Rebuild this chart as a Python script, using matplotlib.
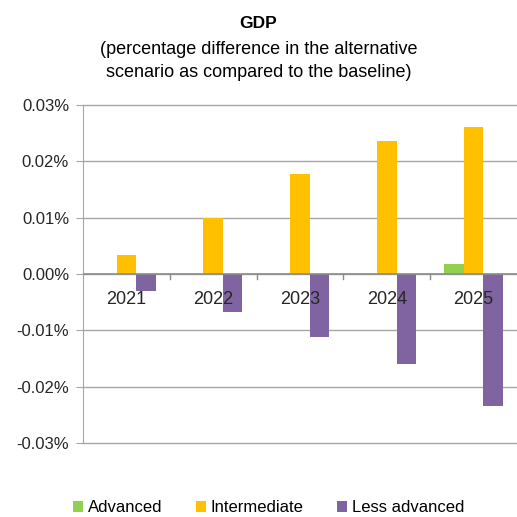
import matplotlib.pyplot as plt
import numpy as np
from matplotlib.ticker import FuncFormatter

plt.rcParams['font.family'] = ['Liberation Sans', 'DejaVu Sans']

years = ['2021', '2022', '2023', '2024', '2025']
advanced = [0.00005, 0.00005, 0.00005, 0.00005, 0.0018]
intermediate = [0.0034, 0.0100, 0.0178, 0.0236, 0.0261]
less_advanced = [-0.0030, -0.0067, -0.0111, -0.0160, -0.0235]

colors = ['#92D050', '#FFC000', '#8064A2']

fig = plt.figure(figsize=(5.17, 5.17), dpi=100)
ax = fig.add_axes([83 / 517, 1 - 443 / 517, 434 / 517, 338 / 517])

x = np.arange(len(years))
w = 0.224
ax.bar(x - w, advanced, w, color=colors[0], label='Advanced')
ax.bar(x, intermediate, w, color=colors[1], label='Intermediate')
ax.bar(x + w, less_advanced, w, color=colors[2], label='Less advanced')

ax.set_xlim(-0.5, len(years) - 0.5)
ax.set_ylim(-0.03, 0.03)
ax.set_yticks(np.arange(-0.03, 0.031, 0.01))
ax.yaxis.set_major_formatter(FuncFormatter(lambda v, p: f'{v:.2f}%'))
for t in np.arange(-0.03, 0.031, 0.01):
    ax.axhline(t, color='#A6A6A6', linewidth=1, zorder=0, clip_on=False)
for s in ['top', 'right', 'bottom']:
    ax.spines[s].set_visible(False)
ax.spines['left'].set_color('#A6A6A6')
ax.tick_params(axis='y', length=5, color='#A6A6A6', labelsize=12, pad=5, labelcolor='#262626')
ax.set_xticks([])
ax.axhline(0, color='#8C8C8C', linewidth=1.2, zorder=3)
for b in np.arange(0.5, len(years) - 0.5, 1):
    ax.plot([b, b], [0, -0.0008], color='#8C8C8C', linewidth=1, zorder=3)
for i, yr in enumerate(years):
    ax.text(i, -0.0045, yr, ha='center', va='center', fontsize=13, color='#262626', zorder=4)

fig.text(0.5, 1 - 24 / 517, 'GDP', ha='center', va='center', fontsize=12.5, fontweight='bold')
fig.text(0.5, 1 - 50 / 517, '(percentage difference in the alternative', ha='center', va='center', fontsize=13)
fig.text(0.5, 1 - 73 / 517, 'scenario as compared to the baseline)', ha='center', va='center', fontsize=13)

fig.legend(loc='center', bbox_to_anchor=(0.52, 1 - 508 / 517), ncol=3, frameon=False,
           fontsize=12, handlelength=0.6, handleheight=0.6, handletextpad=0.3, columnspacing=2.0)

fig.savefig('out.png', dpi=100)
